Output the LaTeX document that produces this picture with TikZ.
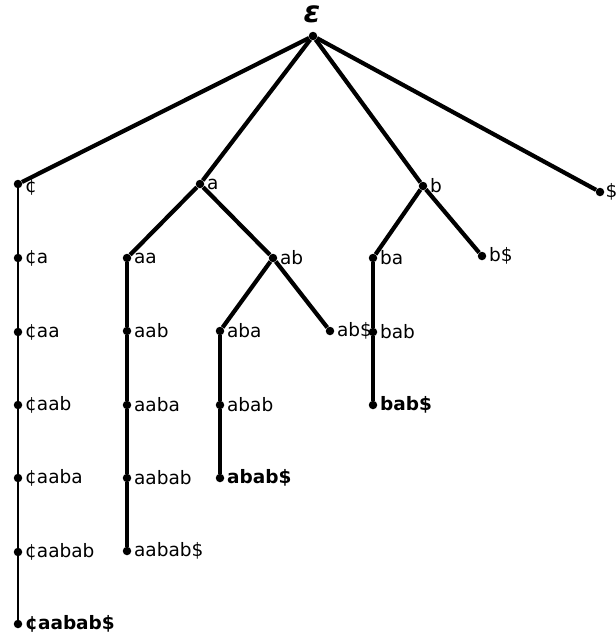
\documentclass[tikz,border=0pt]{standalone}
\usepackage{fontspec}
\setmainfont{DejaVu Sans}
\begin{document}
\begin{tikzpicture}[x=1pt,y=-1pt,
  dot/.style={circle,fill=black,inner sep=0pt,minimum size=8.5pt},
  lbl/.style={font=\fontsize{18.5}{20}\selectfont,inner sep=1pt,label distance=1.5pt},
  blbl/.style={lbl,font=\fontsize{18.5}{20}\selectfont\bfseries},
  edge/.style={line width=4.2pt},
  thin edge/.style={line width=2.2pt}]
\useasboundingbox (0,0) rectangle (616,633);
% root
\node[dot] (e) at (313,36) {};
\node[font=\fontsize{30}{32}\selectfont\bfseries\itshape] (elab) at (312,14) {ε};
% first level
\node[dot,label={[lbl,yshift=-3pt]0:¢}] (c) at (18,184) {};
\node[dot,label={[lbl]0:a}] (a) at (200,184) {};
\node[dot,label={[lbl]0:b}] (b) at (423,186) {};
\node[dot,label={[lbl,label distance=0pt]0:\$}] (d) at (600,192) {};
% strings starting with ¢
\node[dot,label={[lbl]0:¢a}] (ca) at (18,258) {};
\node[dot,label={[lbl]0:¢aa}] (caa) at (18,332) {};
\node[dot,label={[lbl]0:¢aab}] (caab) at (18,405) {};
\node[dot,label={[lbl]0:¢aaba}] (caaba) at (18,478) {};
\node[dot,label={[lbl]0:¢aabab}] (caabab) at (18,552) {};
\node[dot,label={[blbl]0:¢aabab\$}] (caababd) at (18,624) {};
% strings starting with a
\node[dot,label={[lbl]0:aa}] (aa) at (127,258) {};
\node[dot,label={[lbl]0:aab}] (aab) at (127,331) {};
\node[dot,label={[lbl]0:aaba}] (aaba) at (127,405) {};
\node[dot,label={[lbl]0:aabab}] (aabab) at (127,478) {};
\node[dot,label={[lbl]0:aabab\$}] (aababd) at (127,551) {};
\node[dot,label={[lbl]0:ab}] (ab) at (273,258) {};
\node[dot,label={[lbl]0:aba}] (aba) at (220,331) {};
\node[dot,label={[lbl]0:abab}] (abab) at (220,405) {};
\node[dot,label={[blbl]0:abab\$}] (ababd) at (220,478) {};
\node[dot,label={[lbl]0:ab\$}] (abd) at (330,331) {};
% strings starting with b
\node[dot,label={[lbl]0:ba}] (ba) at (373,258) {};
\node[dot,label={[lbl]0:bab}] (bab) at (373,332) {};
\node[dot,label={[blbl]0:bab\$}] (babd) at (373,405) {};
\node[dot,label={[lbl]0:b\$}] (bd) at (482,256) {};
% tree edges
\draw[edge] (e) -- (c);
\draw[edge] (e) -- (a);
\draw[edge] (e) -- (b);
\draw[edge] (e) -- (d);
\draw[thin edge] (c) -- (ca) -- (caa) -- (caab) -- (caaba) -- (caabab) -- (caababd);
\draw[edge] (a) -- (aa);
\draw[edge] (a) -- (ab);
\draw[edge] (aa) -- (aab) -- (aaba) -- (aabab) -- (aababd);
\draw[edge] (ab) -- (aba);
\draw[edge] (ab) -- (abd);
\draw[edge] (aba) -- (abab) -- (ababd);
\draw[edge] (b) -- (ba);
\draw[edge] (b) -- (bd);
\draw[edge] (ba) -- (bab) -- (babd);
\end{tikzpicture}
\end{document}
